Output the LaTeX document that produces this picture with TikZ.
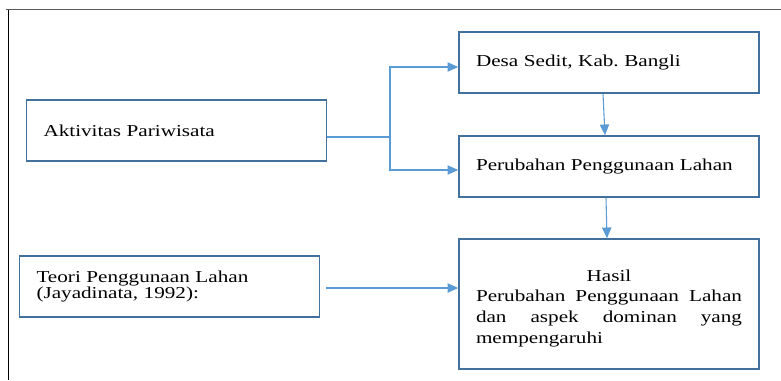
\documentclass[tikz,border=0pt]{standalone}
\usepackage{fontspec}
\setmainfont{Liberation Serif}[FakeStretch=1.27]
\usetikzlibrary{arrows.meta}
\definecolor{boxc}{RGB}{65,113,156}
\definecolor{linec}{RGB}{91,155,213}
\definecolor{framec}{RGB}{90,90,90}
\frenchspacing
\begin{document}
\begin{tikzpicture}[x=0.75pt,y=-0.75pt,
  box/.style={draw=boxc,line width=1.2pt,minimum height=45.75pt,inner xsep=12.75pt,
    text width=199.5pt,align=left,font=\fontsize{12.5}{15.5}\selectfont\frenchspacing},
  arr/.style={draw=linec,line width=0.8pt,-{Triangle[length=8pt,width=7pt]}},
  conn/.style={draw=linec,line width=0.8pt}]
\useasboundingbox (0,0) rectangle (781,380);
\draw[line width=1.1pt,draw=framec] (6,9.5) -- (781,9.5);
\draw[line width=0.9pt] (8.5,9.5) -- (8.5,380);

\node[box] (desa) at (609,62.5) {Desa Sedit, Kab. Bangli};
\node[box] (akt) at (176.5,130.5) {Aktivitas Pariwisata};
\node[box] (per) at (609,166.5) {Perubahan Penggunaan Lahan};
\node[box,minimum height=97.5pt,align=center] (hasil) at (609,304)
  {\rule{0pt}{15pt}Hasil\\
   \makebox[199.5pt][l]{Perubahan\hfill Penggunaan\hfill Lahan}\\
   \makebox[199.5pt][l]{dan\hfill aspek\hfill dominan\hfill yang}\\
   \makebox[199.5pt][l]{mempengaruhi}};
\node[box,font=\fontsize{12.5}{12}\selectfont] (teori) at (169.5,286.5)
  {Teori Penggunaan Lahan\\(Jayadinata, 1992):};

\coordinate (j) at (390,137);
\coordinate (ja) at (390,67);
\coordinate (jb) at (390,170);
\draw[conn] (j -| akt.east) -- (j);
\draw[arr] (j) -- (ja) -- (ja -| desa.west);
\draw[arr] (j) -- (jb) -- (jb -| per.west);
\draw[arr] ([xshift=-4.5pt]desa.south) -- ([xshift=-3pt]per.north);
\draw[arr] ([xshift=-2.25pt]per.south) -- ([xshift=-1.5pt]hasil.north);
\coordinate (t1) at (326,288);
\draw[arr] (t1) -- (t1 -| hasil.west);
\end{tikzpicture}
\end{document}
